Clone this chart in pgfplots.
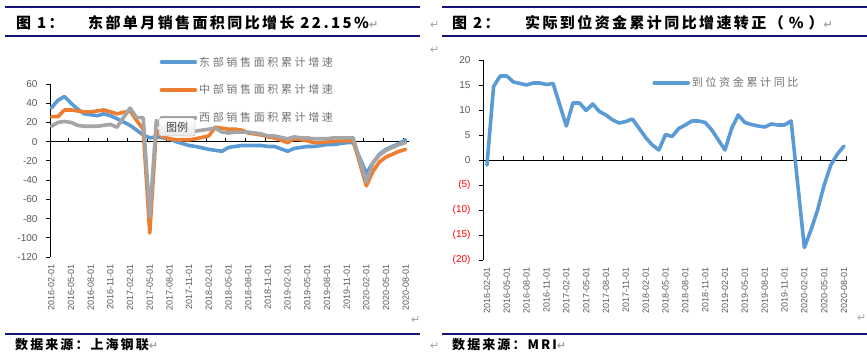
\documentclass[border=0pt]{standalone}
\usepackage{fontspec}
\setmainfont{Liberation Sans}
\newfontfamily\cjk{Noto Sans CJK SC}
\newfontfamily\cjkT[LetterSpace=16]{Noto Sans CJK SC}
\newfontfamily\cjkL[LetterSpace=24]{Noto Sans CJK SC}
\newfontfamily\sym{DejaVu Sans}
\usepackage{pgfplots}
\pgfplotsset{compat=1.18}
\definecolor{sBlue}{RGB}{91,155,213}
\definecolor{sOrange}{RGB}{237,125,49}
\definecolor{sGray}{RGB}{165,165,165}
\definecolor{tickgray}{RGB}{89,89,89}
\definecolor{leggray}{RGB}{115,115,115}
\definecolor{navyrule}{RGB}{20,20,120}
\definecolor{retgray}{RGB}{160,160,160}
\newcommand{\ret}{{\sym\color{retgray}\fontsize{11}{11}\selectfont ↵}}
\pgfplotsset{
  common/.style={
    scale only axis,
    /pgf/number format/assume math mode=true,
    ticklabel style={text=tickgray},
    yticklabel style={font=\fontsize{10}{10}\selectfont, xshift=-5pt},
    xticklabel style={rotate=90, anchor=east, font=\fontsize{9}{9}\selectfont},
    tick align=outside, major tick length=4pt,
    y axis line style={black, line width=0.8pt},
    ytick style={black, line width=0.8pt},
    x axis line style={draw=none},
    xtick style={draw=none},
    axis y line*=left, axis x line*=bottom,
    xtick={0,3,...,54},
    xticklabels={2016-02-01,2016-05-01,2016-08-01,2016-11-01,2017-02-01,2017-05-01,2017-08-01,2017-11-01,2018-02-01,2018-05-01,2018-08-01,2018-11-01,2019-02-01,2019-05-01,2019-08-01,2019-11-01,2020-02-01,2020-05-01,2020-08-01},
    legend image code/.code={\draw[#1, line width=3.5pt, line cap=round] (0pt,0pt) -- (34pt,0pt);},
    legend cell align=left,
  },
  zeroline/.style={
    scale only axis,
    axis x line*=middle, axis y line=none,
    xticklabels={}, ytick=\empty,
    tick align=center, major tick length=4pt,
    xtick style={yshift=2pt, black, line width=0.8pt},
    axis line style={black, line width=0.8pt},
  },
  ser/.style={line width=3.6pt, line join=round, line cap=round},
}
\begin{document}
\begin{tikzpicture}
\useasboundingbox (0pt,0pt) rectangle (867pt,357pt);
% rules
\draw[navyrule, line width=1.2pt] (5pt,350pt) -- (420pt,350pt);
\draw[navyrule, line width=1.2pt] (5pt,321pt) -- (420pt,321pt);
\draw[navyrule, line width=1.2pt] (442pt,350pt) -- (867pt,350pt);
\draw[navyrule, line width=1.2pt] (442pt,321pt) -- (867pt,321pt);
\draw[navyrule, line width=1.2pt] (5pt,23pt) -- (420pt,23pt);
\draw[navyrule, line width=1.2pt] (442pt,23pt) -- (867pt,23pt);
% titles
\node[anchor=base west, inner sep=0, font=\cjkT\bfseries\fontsize{15}{15}\selectfont] at (16pt,328pt) {图 1：};
\node[anchor=base west, inner sep=0, font=\cjkT\bfseries\fontsize{15}{15}\selectfont] at (88pt,328pt) {东部单月销售面积同比增长 22.15\%\ret};
\node[anchor=base west, inner sep=0] at (430pt,328pt) {\ret};
\node[anchor=base west, inner sep=0, font=\cjkT\bfseries\fontsize{15}{15}\selectfont] at (452pt,328pt) {图 2：};
\node[anchor=base west, inner sep=0, font=\cjkT\bfseries\fontsize{15}{15}\selectfont] at (525pt,328pt) {实际到位资金累计同比增速转正（\hspace{5pt}\%\hspace{5pt}）\ret};
\node[anchor=base west, inner sep=0] at (430pt,304pt) {\ret};
% footers
\node[anchor=base west, inner sep=0, font=\cjkT\bfseries\fontsize{13}{13}\selectfont] at (15pt,8pt) {数据来源：上海钢联\ret};
\node[anchor=base west, inner sep=0] at (430pt,8pt) {\ret};
\node[anchor=base west, inner sep=0, font=\cjkT\bfseries\fontsize{13}{13}\selectfont] at (452pt,8pt) {数据来源：MRI\ret};
\node[anchor=base west, inner sep=0] at (411pt,34pt) {\ret};
\node[anchor=base west, inner sep=0] at (857pt,36pt) {\ret};

% ---------- left chart ----------
\begin{axis}[zeroline, at={(50pt,100pt)}, anchor=south west, width=359pt, height=173pt,
  xmin=-0.2, xmax=54.5, ymin=-120, ymax=60, xtick={2.6,5.6,...,53.6}]
\end{axis}
\begin{axis}[common, at={(50pt,100pt)}, anchor=south west, width=359pt, height=173pt,
  xmin=-0.2, xmax=54.5, ymin=-120, ymax=60, ytick={-120,-100,...,60},
  legend style={at={(0.305,1.17)}, anchor=north west, draw=none, fill=none,
    font=\cjkL\fontsize{11}{11}\selectfont, text=leggray, row sep=13pt, inner sep=0pt},
]
\addplot[ser, sBlue] coordinates {
(0,35)(1,43)(2,47)(3,40)(4,34)(5,29)(6,28)(7,27)(8,29)(9,27)(10,24)
(12,17)(13,12)(14,7)(15,4)(16,5)(17,4)(18,3)(19,0)(20,-2)(21,-4)(22,-5)
(24,-8)(25,-9)(26,-10)(27,-6)(28,-5)(29,-4)(30,-4)(31,-4)(32,-4)(33,-5)(34,-5)
(36,-10)(37,-7)(38,-6)(39,-5)(40,-5)(41,-4)(42,-3)(43,-3)(44,-2)(45,-1)(46,-1)
(48,-33)(49,-22)(50,-13)(51,-8)(52,-5)(53,-2)(54,2)};
\addlegendentry{东部销售面积累计增速}
\addplot[ser, sOrange] coordinates {
(0,26)(1,26)(2,33)(3,33)(4,32)(5,31)(6,31)(7,32)(8,33)(9,31)(10,29)
(12,32)(13,22)(14,13)(15,-95)(16,12)(17,5)(18,3)(19,2)(20,2)(21,2)(22,3)
(24,6)(25,15)(26,14)(27,13)(28,13)(29,12)(30,9)(31,8)(32,7)(33,5)(34,4)
(36,-1)(37,3)(38,2)(39,1)(40,-1)(41,-1)(42,0)(43,0)(44,1)(45,1)(46,1)
(48,-46)(49,-31)(50,-21)(51,-16)(52,-13)(53,-10)(54,-8)};
\addlegendentry{中部销售面积累计增速}
\addplot[ser, sGray] coordinates {
(0,16)(1,20)(2,21)(3,20)(4,17)(5,16)(6,16)(7,16)(8,17)(9,18)(10,15)
(12,35)(13,25)(14,25)(15,-78)(16,22)(17,13)(18,11)(19,10)(20,10)(21,11)(22,11)
(24,13)(25,14)(26,10)(27,9)(28,10)(29,10)(30,10)(31,9)(32,8)(33,6)(34,6)
(36,3)(37,5)(38,4)(39,4)(40,3)(41,3)(42,3)(43,4)(44,4)(45,4)(46,4)
(48,-42)(49,-22)(50,-14)(51,-9)(52,-6)(53,-3)(54,-1)};
\addlegendentry{西部销售面积累计增速}
\end{axis}
% Excel tooltip
\node[draw=gray!75, rounded corners=2pt, top color=white, bottom color=gray!18,
  minimum width=36pt, minimum height=18pt, inner sep=0pt,
  font=\cjk\fontsize{11}{11}\selectfont, text=black!75] at (177pt,230pt) {图例};

% ---------- right chart ----------
\begin{axis}[zeroline, at={(483pt,97pt)}, anchor=south west, width=364pt, height=200pt,
  xmin=-0.6, xmax=54.45, ymin=-20, ymax=20, xtick={2.5,5.5,...,50.5,54.4}]
\end{axis}
\begin{axis}[common, at={(483pt,97pt)}, anchor=south west, width=364pt, height=200pt,
  xmin=-0.6, xmax=54.45, ymin=-20, ymax=20, ytick={-20,-15,...,20},
  yticklabels={\textcolor{red}{(20)},\textcolor{red}{(15)},\textcolor{red}{(10)},\textcolor{red}{(5)},0,5,10,15,20},
  legend style={at={(0.465,0.885)}, anchor=west, draw=none, fill=none,
    font=\cjkL\fontsize{11}{11}\selectfont, text=leggray, inner sep=0pt},
]
\addplot[ser, sBlue] coordinates {
(0,-1)(1,14.7)(2,16.8)(3,16.8)(4,15.6)(5,15.3)(6,15.0)(7,15.4)(8,15.4)(9,15.1)(10,15.3)
(12,6.8)(13,11.4)(14,11.4)(15,9.9)(16,11.2)(17,9.7)(18,9.0)(19,8.0)(20,7.4)(21,7.7)(22,8.2)
(24,4.5)(25,3.0)(26,2.0)(27,5.1)(28,4.7)(29,6.3)(30,7.0)(31,7.8)(32,7.8)(33,7.5)(34,6.0)
(36,2.0)(37,6.3)(38,9.0)(39,7.5)(40,7.1)(41,6.8)(42,6.6)(43,7.2)(44,7.0)(45,7.0)(46,7.8)
(48,-17.5)(49,-14)(50,-10)(51,-5)(52,-1)(53,1.2)(54,2.8)};
\addlegendentry{到位资金累计同比}
\end{axis}
\end{tikzpicture}
\end{document}
